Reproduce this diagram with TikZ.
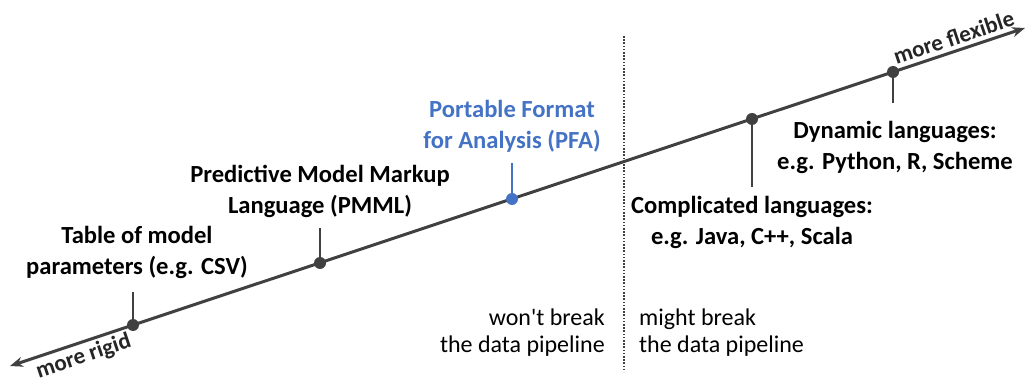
\documentclass[tikz,border=0pt]{standalone}
\usepackage{fontspec}
\setmainfont{Carlito}
\usetikzlibrary{arrows.meta,positioning}
\definecolor{linegray}{RGB}{64,64,64}
\definecolor{pfablue}{RGB}{68,114,196}

\begin{document}
\begin{tikzpicture}[x=1pt,y=-1pt,>={Stealth[length=13pt,width=10pt]},
  lbl/.style={align=center,inner sep=0pt,font=\bfseries\fontsize{24.6}{31}\selectfont},
  endlbl/.style={inner sep=0pt,text=black!85,font=\bfseries\fontsize{23}{28}\selectfont},
  note/.style={inner sep=0pt,font=\fontsize{24}{27}\selectfont},
  dot/.style={circle,fill=linegray,inner sep=0pt,minimum size=12pt},
  tick/.style={linegray,line width=2pt}]
  \useasboundingbox (0,0) rectangle (1026,379);

  % separator
  \coordinate (septop) at (624,36);
  \coordinate (sepbot) at (624,372);
  \coordinate (sepmid) at (624,309);
  \draw[linegray,line width=2pt,dash pattern=on 1.6pt off 1.6pt] (septop) -- (sepbot);
  \node[note,align=right,below left=0pt and 19pt of sepmid] (wont) {won\textquotesingle t break\\the data pipeline};
  \node[note,align=left,below right=0pt and 15pt of sepmid] (might) {might break\\the data pipeline};

  % main axis
  \coordinate (lo) at (10,366);
  \coordinate (hi) at (1025,28);
  \draw[<->,linegray,line width=3pt] (lo) -- (hi)
     node[endlbl,pos=0.068,sloped,below=3pt] (rigid) {more rigid}
     node[endlbl,pos=0.934,sloped,above=4pt] (flexible) {more flexible};

  % tick ends
  \coordinate (csvk) at (133,292);
  \coordinate (pmmlk) at (320,228);
  \coordinate (pfak) at (512,163);
  \coordinate (jvmk) at (752,187);
  \coordinate (dynk) at (893,103);

  % labels
  \node[lbl,above=13pt of csvk,xshift=4pt] (csvlbl) {Table of model\\parameters (e.g. CSV)};
  \node[lbl,above=10pt of pmmlk] (pmmllbl) {Predictive Model Markup\\Language (PMML)};
  \node[lbl,text=pfablue,above=10pt of pfak] (pfalbl) {Portable Format\\for Analysis (PFA)};
  \node[lbl,below=9pt of jvmk] (jvmlbl) {Complicated languages:\\e.g. Java, C++, Scala};
  \node[lbl,below=18pt of dynk,xshift=2pt] (dynlbl) {Dynamic languages:\\e.g. Python, R, Scheme};

  % ticks and dots
  \node[dot] (csv) at (133,325) {};
  \node[dot] (pmml) at (320,263) {};
  \node[dot,fill=pfablue] (pfa) at (512,199) {};
  \node[dot] (jvm) at (752,119) {};
  \node[dot] (dyn) at (893,72) {};
  \draw[tick] (csv.center) -- (csvk);
  \draw[tick] (pmml.center) -- (pmmlk);
  \draw[tick,pfablue] (pfa.center) -- (pfak);
  \draw[tick] (jvm.center) -- (jvmk);
  \draw[tick] (dyn.center) -- (dynk);
\end{tikzpicture}
\end{document}
